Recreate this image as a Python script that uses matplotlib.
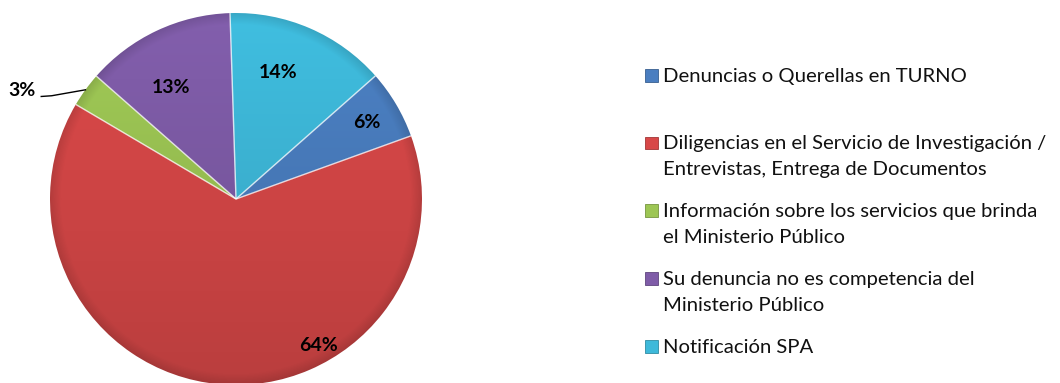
import numpy as np
import matplotlib
matplotlib.use("Agg")
import matplotlib.pyplot as plt
from matplotlib.colors import to_rgb
from matplotlib.patches import Rectangle

# ---- data ----
categories = [
    "Denuncias o Querellas en TURNO",
    "Diligencias en el Servicio de Investigación /\nEntrevistas, Entrega de Documentos",
    "Información sobre los servicios que brinda\nel Ministerio Público",
    "Su denuncia no es competencia del\nMinisterio Público",
    "Notificación SPA",
]
shares = [6, 64, 3, 13, 14]
pct_labels = ["6%", "64%", "3%", "13%", "14%"]

# ---- styling ----
colors = ["#4A7EC0", "#D84848", "#9DC654", "#7F5CA8", "#3EB9DA"]
# (radius, angle in degrees) of each percentage label; None -> placed outside with leader
label_polar = [(0.814, 30.2), (0.903, -60.4), None, (0.692, 120.3), (0.718, 71.7)]
outside_polar = (1.21, 152.9)
elbow_polar = (1.136, 150.75)

W, H = 1060, 383
plt.rcParams["font.family"] = ["Lato", "DejaVu Sans"]

fig = plt.figure(figsize=(W / 100, H / 100), dpi=100)
fig.patch.set_facecolor("white")

# pie axes: centre at (236, 199) px from top-left, radius 186 px
cx, cy, r = 236, 199, 186
ax = fig.add_axes([(cx - r) / W, (H - cy - r) / H, 2 * r / W, 2 * r / H])

wedges, _ = ax.pie(shares, colors=colors, startangle=41.45, counterclock=False,
                   radius=1, center=(0, 0), wedgeprops=dict(linewidth=0))

# soft shading: lighter at top, darker toward the bottom and near the rim
n = 700
xs = np.linspace(-1, 1, n)
X, Y = np.meshgrid(xs, xs)
R = np.hypot(X, Y)
shade = 0.945 + 0.085 * Y
rim = np.clip((R - 0.94) / 0.06, 0, 1)
shade = shade * (1 - 0.12 * rim)

for w, c in zip(wedges, colors):
    rgb = np.clip(np.array(to_rgb(c))[None, None, :] * shade[..., None], 0, 1)
    im = ax.imshow(rgb, extent=(-1, 1, -1, 1), origin="lower",
                   interpolation="bilinear", zorder=1)
    im.set_clip_path(w)
    w.set_visible(False)

# light bevel along the straight wedge sides
for w in wedges:
    for th in (w.theta1, w.theta2):
        t = np.deg2rad(th)
        ax.plot([0, np.cos(t)], [0, np.sin(t)], color="white", lw=1.0,
                alpha=0.45, zorder=2, solid_capstyle="butt")

ax.set_xlim(-1, 1)
ax.set_ylim(-1, 1)
ax.set_aspect("equal")
ax.axis("off")

# percentage labels
pct_size = 14
for w, txt, pol in zip(wedges, pct_labels, label_polar):
    if pol is not None:
        rr, ang = pol
        t = np.deg2rad(ang)
        ax.text(rr * np.cos(t), rr * np.sin(t), txt, ha="center", va="center",
                fontsize=pct_size, fontweight="bold", color="black", zorder=5)
    else:
        rr, ang = outside_polar
        t = np.deg2rad(ang)
        tx, ty = rr * np.cos(t), rr * np.sin(t)
        ax.text(tx, ty, txt, ha="right", va="baseline", fontsize=pct_size,
                fontweight="bold", color="black", zorder=5, clip_on=False)
        mid = np.deg2rad((w.theta1 + w.theta2) / 2)
        er, ea = elbow_polar
        ea = np.deg2rad(ea)
        ax.plot([tx + 0.03, er * np.cos(ea), np.cos(mid)],
                [ty, er * np.sin(ea), np.sin(mid)],
                color="black", lw=1.0, zorder=5, clip_on=False)

# legend
leg_x_text = 663
leg_x_box = 645
box_w, box_h = 12.5, 12.7
first_base = 81.7
entry_step = 67.75
line_step = 26.0
for i, (lab, c) in enumerate(zip(categories, colors)):
    base = first_base + i * entry_step
    fig.patches.append(Rectangle((leg_x_box / W, 1 - base / H), box_w / W, box_h / H,
                                 transform=fig.transFigure, facecolor=c,
                                 edgecolor=tuple(np.array(to_rgb(c)) * 0.75),
                                 lw=0.6))
    for k, line in enumerate(lab.split("\n")):
        fig.text(leg_x_text / W, 1 - (base + k * line_step) / H, line,
                 ha="left", va="baseline", fontsize=14.6, color="#111111")

fig.savefig("out.png", dpi=100, facecolor="white")
